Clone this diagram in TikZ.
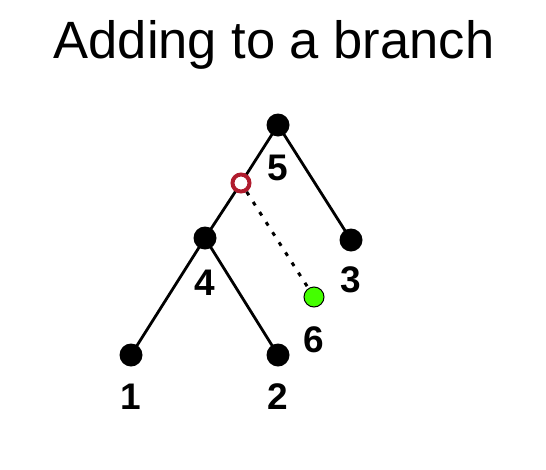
\documentclass[tikz,border=0pt]{standalone}
\usepackage{fontspec}
\setmainfont{Liberation Sans}
\begin{document}
\begin{tikzpicture}[x=1pt,y=-1pt,
  dot/.style={circle,fill=black,inner sep=0pt,minimum size=23pt},
  cut/.style={circle,draw={rgb,255:red,176;green,28;blue,46},line width=4pt,fill=white,inner sep=0pt,minimum size=17pt},
  newleaf/.style={circle,draw=black,line width=1pt,fill={rgb,255:red,68;green,255;blue,0},inner sep=0pt,minimum size=20pt},
  lbl/.style={font=\fontsize{37}{40}\selectfont\bfseries,inner sep=0pt},
  edge/.style={line width=2.8pt}]
\useasboundingbox (0,0) rectangle (546,469);
\node[font=\fontsize{52.5}{60}\selectfont,inner sep=0pt] (title) at (274,45) {Adding to a branch};
\node[dot] (n5) at (278,125) {};
\node[dot] (n4) at (205,238) {};
\node[dot] (n3) at (351,240) {};
\node[dot] (n1) at (131,355) {};
\node[dot] (n2) at (278,355) {};
\coordinate (r) at (241,183);
\draw[edge] (n5.center) -- (r) -- (n4.center);
\draw[edge] (n5.center) -- (n3.center);
\draw[edge] (n4.center) -- (n1.center);
\draw[edge] (n4.center) -- (n2.center);
\node[newleaf] (n6) at (314,297) {};
\node[cut] (rc) at (r) {};
\draw[line width=3pt,dash pattern=on 4pt off 8pt] (rc) -- (n6);
\node[lbl] (l5) at (278,168) {5};
\node[lbl] (l4) at (205,283) {4};
\node[lbl] (l3) at (351,280) {3};
\node[lbl] (l6) at (314,340) {6};
\node[lbl] (l1) at (131,397) {1};
\node[lbl] (l2) at (278,397) {2};
\end{tikzpicture}
\end{document}
